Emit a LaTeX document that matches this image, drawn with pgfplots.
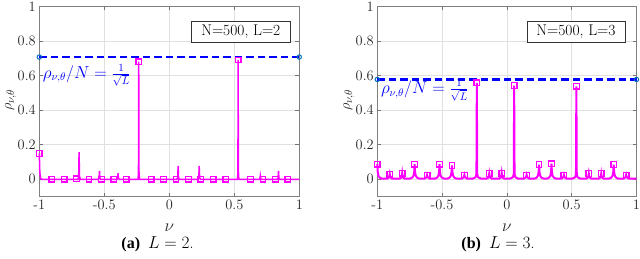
\documentclass[border=0pt]{standalone}
\usepackage{fontspec}
\newfontfamily\timesfont{Liberation Serif}
\usepackage{pgfplots}
\pgfplotsset{compat=1.18}
\definecolor{mag}{RGB}{255,0,255}
\definecolor{mblue}{RGB}{0,114,189}
\definecolor{dblue}{RGB}{0,0,255}
\definecolor{tgray}{RGB}{38,38,38}
\pgfplotsset{myaxis/.style={
  scale only axis, width=260pt, height=190.2pt,
  xmin=-1, xmax=1, ymin=-0.1, ymax=1,
  xtick={-1,-0.5,0,0.5,1}, xticklabels={-1,-0.5,0,0.5,1},
  ytick={0,0.2,0.4,0.6,0.8,1}, yticklabels={0,0.2,0.4,0.6,0.8,1},
  tick align=inside, major tick length=4pt,
  tick style={black!55, line width=0.5pt},
  axis line style={black!50, line width=0.6pt},
  grid=major, grid style={black!12, line width=0.5pt},
  ticklabel style={font=\fontsize{14.4}{16}\selectfont, text=tgray},
  xlabel={$\nu$}, ylabel={$\rho_{\nu,\theta}$},
  label style={font=\fontsize{16}{18}\selectfont, text=tgray, inner sep=1pt},
  xlabel style={at={(axis description cs:0.5,-0.163)}, anchor=center},
  ylabel style={at={(axis description cs:-0.11,0.508)}, anchor=center, font=\fontsize{15}{17}\selectfont},
  clip=false,
}}
\begin{document}
\begin{tikzpicture}
\useasboundingbox (0,0) rectangle (640pt,259pt);
% ---------------- panel (a)
\begin{axis}[myaxis, at={(39.3pt,62.4pt)}, anchor=south west]
\addplot[mag, line width=1.5pt] coordinates {
(-1,0.15) (-0.996,0.04) (-0.99,0.005) (-0.98,0)
(-0.702,0) (-0.697,0.02) (-0.694,0.157) (-0.691,0.02) (-0.685,0)
(-0.548,0) (-0.540,0.008) (-0.537,0.048) (-0.534,0.008) (-0.528,0)
(-0.403,0) (-0.397,0.006) (-0.394,0.035) (-0.391,0.006) (-0.385,0)
(-0.240,0) (-0.237,0.05) (-0.2352,0.68) (-0.2335,0.05) (-0.230,0)
(0.058,0) (0.065,0.01) (0.068,0.077) (0.071,0.01) (0.078,0)
(0.220,0) (0.227,0.01) (0.230,0.077) (0.233,0.01) (0.240,0)
(0.525,0) (0.528,0.05) (0.5296,0.69) (0.5312,0.05) (0.535,0)
(0.692,0) (0.697,0.004) (0.700,0.02) (0.703,0.004) (0.708,0)
(0.831,0) (0.837,0.008) (0.840,0.048) (0.843,0.008) (0.849,0)
(1,0)};
\addplot[only marks, mark=square, mag, mark size=2.8pt, mark options={fill=white, line width=1.3pt}] coordinates {
(-1,0.15) (-0.9044,0) (-0.8088,0) (-0.7132,0.003) (-0.6176,0) (-0.522,0) (-0.4264,0) (-0.3308,0)
(-0.2352,0.68) (-0.1396,0) (-0.044,0) (0.0516,0) (0.1472,0) (0.2428,0) (0.3384,0) (0.434,0)
(0.5296,0.69) (0.6252,0) (0.7208,0) (0.8164,0) (0.912,0)};
\addplot[dblue, line width=2.8pt, dash pattern=on 7.5pt off 4pt] coordinates {(-1,0.7071) (1,0.7071)};
\addplot[only marks, mark=o, mblue, mark size=2.2pt, mark options={fill=white, line width=1pt}] coordinates {(-1,0.7071) (1,0.7071)};
\node[anchor=west, text=dblue, inner sep=1pt, xshift=2.5pt, font=\fontsize{16}{18}\selectfont] at (axis cs:-1,0.603) {$\rho_{\nu,\theta}/N=\frac{1}{\sqrt{L}}$};
\node[draw=black!80, fill=white, line width=0.6pt, font=\fontsize{15.5}{17}\selectfont, minimum width=98pt, minimum height=21pt, inner sep=0pt, text=black] at (axis cs:0.55,0.855) {N=500, L=2};
\end{axis}
% ---------------- panel (b)
\begin{axis}[myaxis, width=259.2pt, at={(377.3pt,62.4pt)}, anchor=south west]
\addplot[mag, line width=2pt] coordinates {
(-1,0.088) (-0.997,0.045) (-0.992,0.022) (-0.982,0.010) (-0.965,0.004)
(-0.924,0.004) (-0.912,0.010) (-0.907,0.018) (-0.904,0.03) (-0.901,0.018) (-0.896,0.010) (-0.884,0.004)
(-0.828,0.004) (-0.816,0.010) (-0.811,0.018) (-0.808,0.035) (-0.805,0.018) (-0.800,0.010) (-0.788,0.004)
(-0.747,0.004) (-0.730,0.010) (-0.720,0.022) (-0.715,0.045) (-0.712,0.088) (-0.709,0.045) (-0.704,0.022) (-0.694,0.010) (-0.677,0.004)
(-0.636,0.004) (-0.624,0.010) (-0.619,0.016) (-0.616,0.025) (-0.613,0.016) (-0.608,0.010) (-0.596,0.004)
(-0.555,0.004) (-0.538,0.010) (-0.528,0.022) (-0.523,0.045) (-0.520,0.088) (-0.517,0.045) (-0.512,0.022) (-0.502,0.010) (-0.485,0.004)
(-0.459,0.004) (-0.442,0.010) (-0.432,0.022) (-0.427,0.045) (-0.424,0.080) (-0.421,0.045) (-0.416,0.022) (-0.406,0.010) (-0.389,0.004)
(-0.348,0.004) (-0.336,0.010) (-0.331,0.016) (-0.328,0.025) (-0.325,0.016) (-0.320,0.010) (-0.308,0.004)
(-0.262,0.004) (-0.242,0.012) (-0.235,0.030) (-0.232,0.558) (-0.229,0.030) (-0.222,0.012) (-0.202,0.004)
(-0.156,0.004) (-0.144,0.010) (-0.139,0.018) (-0.136,0.033) (-0.133,0.018) (-0.128,0.010) (-0.116,0.004)
(-0.060,0.004) (-0.048,0.010) (-0.043,0.018) (-0.040,0.035) (-0.037,0.018) (-0.032,0.010) (-0.020,0.004)
(0.026,0.004) (0.046,0.012) (0.053,0.030) (0.056,0.542) (0.059,0.030) (0.066,0.012) (0.086,0.004)
(0.132,0.004) (0.144,0.010) (0.149,0.016) (0.152,0.025) (0.155,0.016) (0.160,0.010) (0.172,0.004)
(0.213,0.004) (0.230,0.010) (0.240,0.022) (0.245,0.045) (0.248,0.085) (0.251,0.045) (0.256,0.022) (0.266,0.010) (0.283,0.004)
(0.309,0.004) (0.326,0.010) (0.336,0.022) (0.341,0.045) (0.344,0.090) (0.347,0.045) (0.352,0.022) (0.362,0.010) (0.379,0.004)
(0.420,0.004) (0.432,0.010) (0.437,0.016) (0.440,0.025) (0.443,0.016) (0.448,0.010) (0.460,0.004)
(0.506,0.004) (0.526,0.012) (0.533,0.030) (0.536,0.538) (0.539,0.030) (0.546,0.012) (0.566,0.004)
(0.612,0.004) (0.624,0.010) (0.629,0.018) (0.632,0.033) (0.635,0.018) (0.640,0.010) (0.652,0.004)
(0.708,0.004) (0.720,0.010) (0.725,0.018) (0.728,0.033) (0.731,0.018) (0.736,0.010) (0.748,0.004)
(0.789,0.004) (0.806,0.010) (0.816,0.022) (0.821,0.045) (0.824,0.085) (0.827,0.045) (0.832,0.022) (0.842,0.010) (0.859,0.004)
(0.900,0.004) (0.912,0.010) (0.917,0.016) (0.920,0.025) (0.923,0.016) (0.928,0.010) (0.940,0.004)
(1,0.004)};
\addplot[only marks, mark=square, mag, mark size=2.8pt, mark options={fill=white, line width=1.3pt}] coordinates {
(-1,0.088) (-0.904,0.03) (-0.808,0.035) (-0.712,0.088) (-0.616,0.025) (-0.520,0.088) (-0.424,0.08)
(-0.328,0.025) (-0.232,0.558) (-0.136,0.033) (-0.040,0.035) (0.056,0.542) (0.152,0.025) (0.248,0.085)
(0.344,0.09) (0.440,0.025) (0.536,0.538) (0.632,0.033) (0.728,0.033) (0.824,0.085) (0.920,0.025)};
\addplot[dblue, line width=2.8pt, dash pattern=on 7.5pt off 4pt] coordinates {(-1,0.5774) (1,0.5774)};
\addplot[only marks, mark=o, mblue, mark size=2.2pt, mark options={fill=white, line width=1pt}] coordinates {(-1,0.5774) (1,0.5774)};
\node[anchor=west, text=dblue, inner sep=1pt, xshift=2.5pt, font=\fontsize{16}{18}\selectfont] at (axis cs:-1,0.513) {$\rho_{\nu,\theta}/N=\frac{1}{\sqrt{L}}$};
\node[draw=black!80, fill=white, line width=0.6pt, font=\fontsize{15.5}{17}\selectfont, minimum width=98pt, minimum height=21pt, inner sep=0pt, text=black] at (axis cs:0.533,0.852) {N=500, L=3};
\end{axis}
% captions
\node[font=\fontsize{16}{18}\selectfont, inner sep=1pt] at (157.5pt,15pt) {{\timesfont\bfseries (a)}\enspace$L=2$.};
\node[font=\fontsize{16}{18}\selectfont, inner sep=1pt] at (498pt,15pt) {{\timesfont\bfseries (b)}\enspace$L=3$.};
\end{tikzpicture}
\end{document}
